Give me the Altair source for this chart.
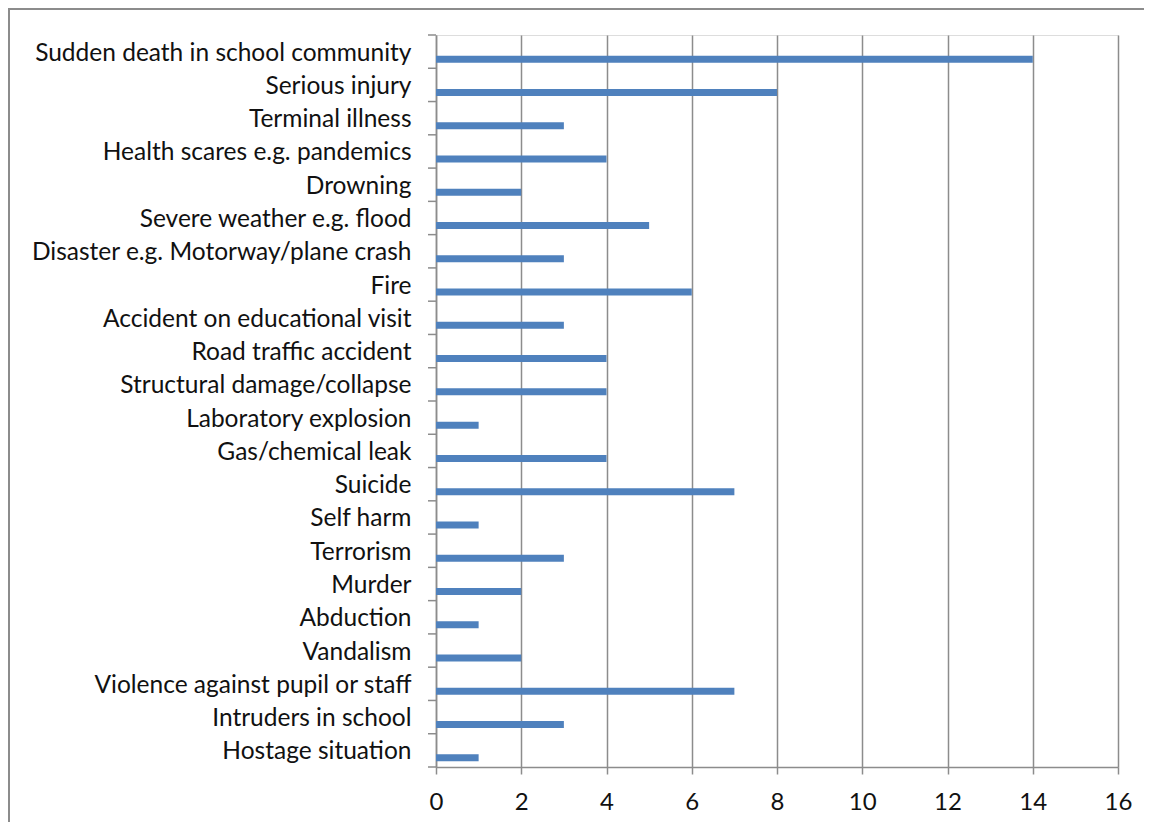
import altair as alt
import pandas as pd

categories = [
    "Sudden death in school community",
    "Serious injury",
    "Terminal illness",
    "Health scares e.g. pandemics",
    "Drowning",
    "Severe weather e.g. flood",
    "Disaster e.g. Motorway/plane crash",
    "Fire",
    "Accident on educational visit",
    "Road traffic accident",
    "Structural damage/collapse",
    "Laboratory explosion",
    "Gas/chemical leak",
    "Suicide",
    "Self harm",
    "Terrorism",
    "Murder",
    "Abduction",
    "Vandalism",
    "Violence against pupil or staff",
    "Intruders in school",
    "Hostage situation",
]
values = [14, 8, 3, 4, 2, 5, 3, 6, 3, 4, 4, 1, 4, 7, 1, 3, 2, 1, 2, 7, 3, 1]
x_ticks = [0, 2, 4, 6, 8, 10, 12, 14, 16]

df = pd.DataFrame({"cat": categories, "val": values})

W, H = 682, 732
FONT = "Lato"
GRAY = "#8c8c8c"

yscale = alt.Scale(domain=categories, paddingInner=0, paddingOuter=0)

bars = alt.Chart(df).mark_bar(color="#4F81BD", height=7, yOffset=7.5).encode(
    x=alt.X("val:Q", scale=alt.Scale(domain=[0, 16], nice=False),
            axis=alt.Axis(values=x_ticks, title=None, grid=True, gridColor=GRAY,
                          gridWidth=1.5, domainColor=GRAY, domainWidth=1.5,
                          tickColor=GRAY, tickWidth=1.5, tickSize=7,
                          labelFont=FONT, labelFontSize=24, labelColor="#111",
                          labelPadding=16, labelFlush=False)),
    y=alt.Y("cat:N", sort=categories, scale=yscale,
            axis=alt.Axis(title=None, ticks=False, labelPadding=25, labelFont=FONT,
                          labelFontSize=24.5, labelColor="#111", labelLimit=500,
                          labelOffset=2,
                          domainColor=GRAY, domainWidth=1.5, grid=False)),
)

ticks = alt.Chart(df).mark_rule(color=GRAY, strokeWidth=1.5).encode(
    y=alt.Y("cat:N", sort=categories, scale=yscale, bandPosition=0),
    x=alt.value(-8),
    x2=alt.value(0),
)

bottom_tick = alt.Chart(df.head(1)).mark_rule(color=GRAY, strokeWidth=1.5).encode(
    y=alt.value(H), x=alt.value(-8), x2=alt.value(0)
)

border = alt.Chart(df.head(1)).mark_rect(fill=None, stroke=GRAY, strokeWidth=2).encode(
    x=alt.value(-427), x2=alt.value(W + 80), y=alt.value(-26), y2=alt.value(H + 120)
)

chart = alt.layer(border, bars, ticks, bottom_tick).properties(
    width=W, height=H,
    autosize=alt.AutoSizeParams(type="none"),
    padding={"left": 428, "top": 27, "right": 26, "bottom": 55},
).configure_view(stroke=None).configure(background="white")

chart.save("out.html", embed_options={"renderer": "svg", "actions": False})
